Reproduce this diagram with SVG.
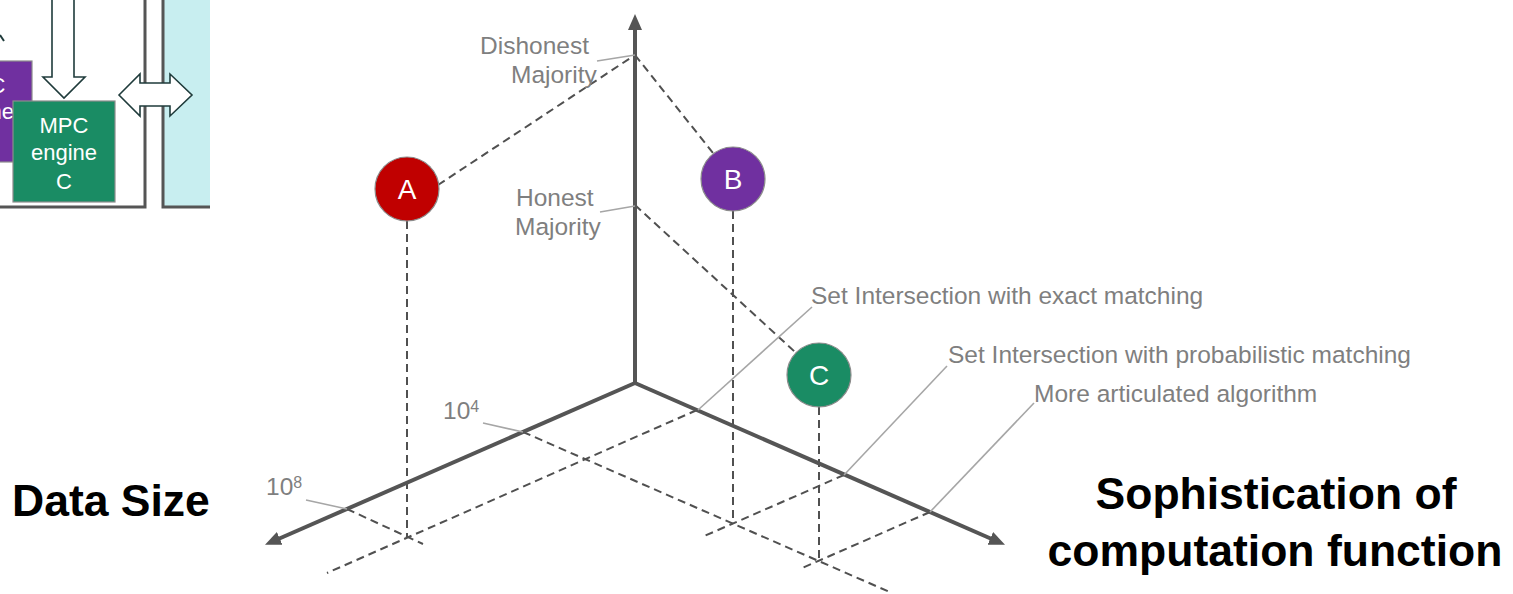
<svg xmlns="http://www.w3.org/2000/svg" width="1513" height="594" viewBox="0 0 1513 594">
<defs>
<style>
.axis{stroke:#555;stroke-width:4;fill:none}
.dash{stroke:#505050;stroke-width:2;stroke-dasharray:8 5;fill:none}
.lead{stroke:#a6a6a6;stroke-width:1.6;fill:none}
.lbl{font-family:"Liberation Sans",Arial,sans-serif;font-size:24.5px;fill:#7f7f7f}
.big{font-family:"Liberation Sans",Arial,sans-serif;font-size:44.5px;font-weight:bold;fill:#000}
.ct{font-family:"Liberation Sans",Arial,sans-serif;font-size:28px;fill:#fff;text-anchor:middle}
.bt{font-family:"Liberation Sans",Arial,sans-serif;font-size:22px;fill:#fff;text-anchor:middle}
.node{stroke:#8c8c8c;stroke-width:1.2}
.hollow{fill:#fff;stroke:#1f3b3b;stroke-width:1.6}
.frame{stroke:#555;stroke-width:3;fill:none}
</style>
<marker id="ah" markerUnits="userSpaceOnUse" markerWidth="18" markerHeight="16" refX="4" refY="7" orient="auto">
<path d="M0,0 L16,7 L0,14 z" fill="#555"/>
</marker>
</defs>
<rect width="1513" height="594" fill="#fff"/>

<!-- partial left diagram fragment -->
<g id="fragment">
<rect x="163" y="-5" width="47" height="212" fill="#c8eef0"/>
<path class="frame" d="M145,0 V207 H0"/>
<path class="frame" d="M163,0 V207 H210"/>
<line x1="0" y1="35" x2="4" y2="41" stroke="#1f3b3b" stroke-width="2"/>
<g id="engineB">
<rect x="-70" y="61" width="102" height="101" fill="#7030a0" class="node"/>
<text class="bt" x="-19" y="93">MPC</text>
<text class="bt" x="-19" y="119">engine</text>
</g>
<polygon class="hollow" points="52,-2 74,-2 74,77 85,77 64,98 43,77 52,77"/>
<g id="engineC">
<rect x="13" y="101" width="102" height="101" fill="#1a8c64" class="node"/>
<text class="bt" x="64" y="133">MPC</text>
<text class="bt" x="64" y="160">engine</text>
<text class="bt" x="64" y="189">C</text>
</g>
<polygon class="hollow" points="119,95 140,74 140,83 170,83 170,74 192,95 170,116 170,106 140,106 140,116"/>
</g>

<!-- connectors: dashed projection lines, axes, leaders -->
<g id="connectors">
<line class="dash" x1="438" y1="185" x2="635" y2="55"/>
<line class="dash" x1="635" y1="55" x2="733" y2="178"/>
<line class="dash" x1="635" y1="205" x2="819" y2="374"/>
<line class="dash" x1="407" y1="221" x2="407" y2="537"/>
<line class="dash" x1="733" y1="211" x2="733" y2="523"/>
<line class="dash" x1="819" y1="407" x2="819" y2="563"/>
<line class="dash" x1="347" y1="509" x2="423" y2="544"/>
<line class="dash" x1="523" y1="432" x2="892" y2="593"/>
<line class="dash" x1="697" y1="410" x2="327" y2="573"/>
<line class="dash" x1="844" y1="475" x2="702" y2="537"/>
<line class="dash" x1="930" y1="512" x2="800" y2="569"/>

<line class="axis" x1="635" y1="385" x2="635" y2="26" marker-end="url(#ah)"/>
<line class="axis" x1="635" y1="383" x2="276" y2="540" marker-end="url(#ah)"/>
<line class="axis" x1="635" y1="383" x2="994" y2="540" marker-end="url(#ah)"/>

<line class="lead" x1="597" y1="61" x2="635" y2="55"/>
<line class="lead" x1="600" y1="212" x2="635" y2="206"/>
<line class="lead" x1="483" y1="423" x2="523" y2="432"/>
<line class="lead" x1="306" y1="500" x2="347" y2="509"/>
<line class="lead" x1="812" y1="307" x2="698" y2="410"/>
<line class="lead" x1="947" y1="366" x2="844" y2="475"/>
<line class="lead" x1="1034" y1="403" x2="930" y2="512"/>
</g>

<g id="nodeA">
<circle class="node" cx="407" cy="189" r="32" fill="#c00000"/>
<text class="ct" x="407" y="199">A</text>
</g>
<g id="nodeB">
<circle class="node" cx="733" cy="179" r="32" fill="#7030a0"/>
<text class="ct" x="733" y="189">B</text>
</g>
<g id="nodeC">
<circle class="node" cx="819" cy="375" r="32" fill="#1a8c64"/>
<text class="ct" x="819" y="385">C</text>
</g>

<g id="labels">
<text class="lbl" x="480" y="54">Dishonest</text>
<text class="lbl" x="511" y="83">Majority</text>
<text class="lbl" x="516" y="206">Honest</text>
<text class="lbl" x="515" y="235">Majority</text>
<text class="lbl" x="443" y="419">10<tspan font-size="16" dy="-7">4</tspan></text>
<text class="lbl" x="266" y="495">10<tspan font-size="16" dy="-7">8</tspan></text>
<text class="lbl" x="811" y="304">Set Intersection with exact matching</text>
<text class="lbl" x="948" y="363">Set Intersection with probabilistic matching</text>
<text class="lbl" x="1034" y="402">More articulated algorithm</text>
<text class="big" x="12" y="516">Data Size</text>
<text class="big" x="1276" y="509" text-anchor="middle">Sophistication of</text>
<text class="big" x="1275" y="566" text-anchor="middle">computation function</text>
</g>
</svg>
